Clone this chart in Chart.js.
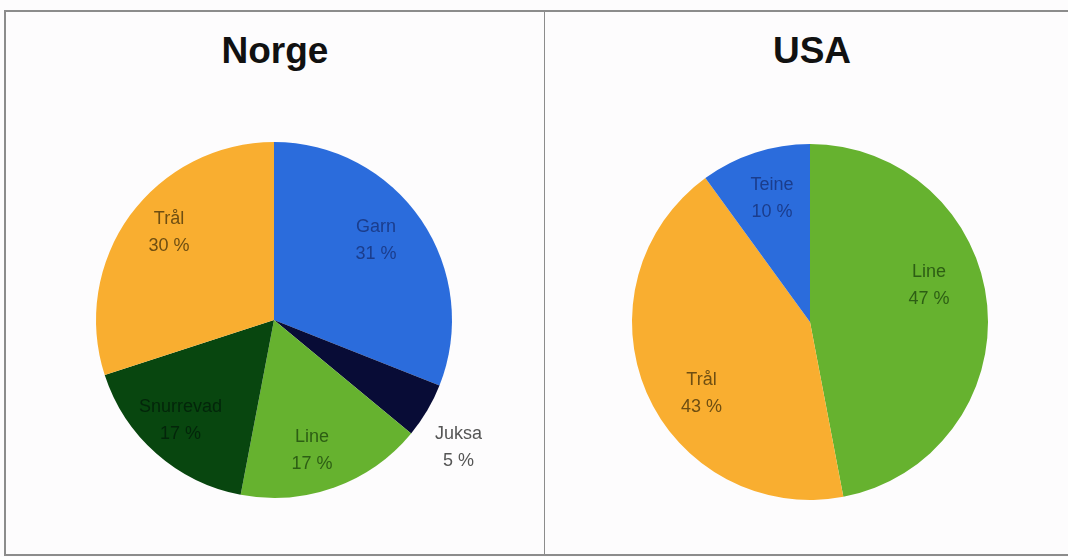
<!DOCTYPE html>
<html>
<head>
<meta charset="utf-8">
<script src="https://cdn.jsdelivr.net/npm/chart.js@4"></script>
<style>
  html, body { margin:0; padding:0; background:#fdfcfd; }
  body { width:1068px; height:557px; position:relative; overflow:hidden; font-family:'Liberation Sans', Arial, sans-serif; }
  .hline { position:absolute; background:#8c8c8c; }
  .title { position:absolute; font-weight:bold; font-size:37px; color:#111; text-align:center; width:300px; top:30px; }
  canvas { position:absolute; }
</style>
</head>
<body>
<div class="hline" style="left:4px; top:10px; width:1064px; height:2px;"></div>
<div class="hline" style="left:4px; top:10px; width:2px; height:545px;"></div>
<div class="hline" style="left:544px; top:11px; width:1px; height:544px;"></div>
<div class="hline" style="left:4px; top:554px; width:1064px; height:2px;"></div>
<div class="title" style="left:125px;">Norge</div>
<div class="title" style="left:662px;">USA</div>
<div style="position:absolute;left:5px;top:12px;width:540px;height:541px;"><canvas id="c1" width="540" height="541"></canvas></div>
<div style="position:absolute;left:546px;top:12px;width:522px;height:541px;"><canvas id="c2" width="522" height="541"></canvas></div>
<script>
// ---- Data ----
const norgeCategories = ['Garn', 'Juksa', 'Line', 'Snurrevad', 'Trål'];
const norgeValues = [31, 5, 17, 17, 30];
const usaCategories = ['Line', 'Trål', 'Teine'];
const usaValues = [47, 43, 10];

// ---- Styles ----
const norgeColors = ['#2b6cdc', '#080c36', '#66b22f', '#08460f', '#f9ae30'];
const norgeTextColors = ['#1b3d8c', '#555555', '#2d5e14', '#03250a', '#6e4e12'];
const usaColors = ['#66b22f', '#f9ae30', '#2b6cdc'];
const usaTextColors = ['#2d5e14', '#6e4e12', '#1b3d8c'];

const sliceLabels = {
  id: 'sliceLabels',
  afterDatasetsDraw(chart, args, opts) {
    const ctx = chart.ctx;
    const meta = chart.getDatasetMeta(0);
    const labels = chart.data.labels;
    const values = chart.data.datasets[0].data;
    ctx.save();
    ctx.font = '18px "Liberation Sans", Arial, sans-serif';
    ctx.textAlign = 'center';
    ctx.textBaseline = 'middle';
    meta.data.forEach((arc, i) => {
      const p = arc.getProps(['x', 'y', 'startAngle', 'endAngle', 'outerRadius'], true);
      const mid = (p.startAngle + p.endAngle) / 2 + (opts.angleOffsets[i] || 0) * Math.PI / 180;
      const r = p.outerRadius * opts.radii[i];
      const x = p.x + Math.cos(mid) * r;
      const y = p.y + Math.sin(mid) * r;
      ctx.fillStyle = opts.textColors[i];
      ctx.fillText(labels[i], x, y - 13);
      ctx.fillText(values[i] + ' %', x, y + 14);
    });
    ctx.restore();
  }
};

function makePie(id, labels, values, colors, textColors, padding, radii, angleOffsets) {
  return new Chart(document.getElementById(id), {
    type: 'pie',
    data: {
      labels: labels,
      datasets: [{ data: values, backgroundColor: colors, borderWidth: 0 }]
    },
    options: {
      responsive: false,
      animation: false,
      layout: { padding: padding },
      plugins: {
        legend: { display: false },
        tooltip: { enabled: false },
        title: { display: false },
        sliceLabels: { textColors: textColors, radii: radii, angleOffsets: angleOffsets }
      }
    },
    plugins: [sliceLabels]
  });
}

makePie('c1', norgeCategories, norgeValues, norgeColors, norgeTextColors,
  { left: 91, right: 93, top: 130, bottom: 55 },
  [0.73, 1.26, 0.76, 0.77, 0.77], [-4, 4, 3.5, 1.6, 4]);
makePie('c2', usaCategories, usaValues, usaColors, usaTextColors,
  { left: 86, right: 80, top: 132, bottom: 53 },
  [0.70, 0.73, 0.73], [-12, -10, 1]);
</script>
</body>
</html>
